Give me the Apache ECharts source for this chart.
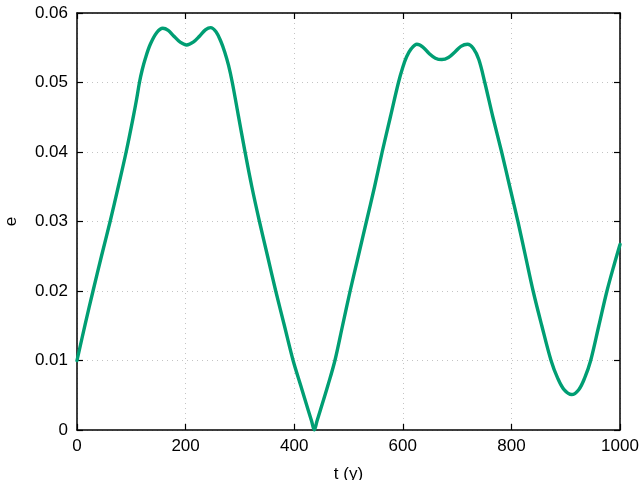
<!DOCTYPE html>
<html>
<head>
<meta charset="utf-8">
<script src="https://cdn.jsdelivr.net/npm/echarts@6/dist/echarts.min.js"></script>
<style>html,body{margin:0;padding:0;background:#fff}#c{width:640px;height:480px}</style>
</head>
<body>
<div id="c"></div>
<script>
const tValues = [0,15,29.5,45,61,76,90.5,104,110,115,120,126,135,147,158,168,178,190,202,214,226,237,246,256,265,272,279,286,297,309,322,336,351,366,382,398,412,426,432,437,442,448,462,475,489,503,518,533,548,562,577,592,600,607,615,626,637,648,660,672,684,696,707,719,730,740,751,766,782,797,812,826,840,856,873,885,897,911,924,935,946,961,976,990,1000];
const eValues = [0.0100,0.0152,0.0200,0.0250,0.0300,0.0350,0.0400,0.0452,0.0477,0.0500,0.0518,0.0535,0.0555,0.0572,0.0578,0.0575,0.0567,0.0558,0.0554,0.0558,0.0567,0.0576,0.0579,0.0573,0.0559,0.0544,0.0525,0.0500,0.0453,0.0402,0.0350,0.0300,0.0250,0.0200,0.0150,0.0100,0.0064,0.0028,0.0013,0.0000,0.0013,0.0028,0.0064,0.0100,0.0150,0.0200,0.0250,0.0300,0.0350,0.0400,0.0450,0.0500,0.0522,0.0537,0.0548,0.0555,0.0551,0.0542,0.0535,0.0533,0.0536,0.0544,0.0552,0.0555,0.0549,0.0533,0.0500,0.0450,0.0400,0.0350,0.0300,0.0250,0.0200,0.0150,0.0100,0.0075,0.0058,0.0051,0.0058,0.0075,0.0100,0.0150,0.0200,0.0240,0.0267];
const xTicks = [0,200,400,600,800,1000];
const yTicks = [0,0.01,0.02,0.03,0.04,0.05,0.06];

const data = tValues.map((t,i)=>[t,eValues[i]]);
const font = 'Liberation Sans, Arial, sans-serif';
const gridLine = {show:true,lineStyle:{color:'#c4c4c4',type:[1,4],width:1}};
const tick = {show:true,inside:true,length:6,lineStyle:{color:'#000',width:1.2}};
const chart = echarts.init(document.getElementById('c'),null,{renderer:'canvas'});
chart.setOption({
  animation:false,
  grid:{left:77,right:20,top:13,bottom:50,containLabel:false,outerBoundsMode:'none',show:false},
  xAxis:[{
    type:'value',min:0,max:1000,interval:200,
    name:'t (y)',nameLocation:'middle',nameGap:36,
    nameTextStyle:{color:'#000',fontSize:17,fontFamily:font},
    axisLine:{show:true,onZero:false,lineStyle:{color:'#000',width:1.5}},
    axisTick:tick,
    axisLabel:{color:'#000',fontSize:17,fontFamily:font,margin:8,formatter:v=>xTicks.includes(v)?String(v):''},
    splitLine:gridLine
  },{
    type:'value',min:0,max:1000,interval:200,position:'top',
    axisLine:{show:true,onZero:false,lineStyle:{color:'#000',width:1.5}},
    axisLabel:{show:false},splitLine:{show:false},
    axisTick:tick
  }],
  yAxis:[{
    type:'value',min:0,max:0.06,interval:0.01,
    name:'e',nameLocation:'middle',nameGap:57,nameRotate:90,
    nameTextStyle:{color:'#000',fontSize:17,fontFamily:font},
    axisLine:{show:true,onZero:false,lineStyle:{color:'#000',width:1.5}},
    axisTick:tick,
    axisLabel:{color:'#000',fontSize:17,fontFamily:font,margin:9,
      formatter:v=>{const k=yTicks.findIndex(y=>Math.abs(y-v)<1e-9);return k<0?'':(k===0?'0':yTicks[k].toFixed(2));}},
    splitLine:gridLine
  },{
    type:'value',min:0,max:0.06,interval:0.01,position:'right',
    axisLine:{show:true,onZero:false,lineStyle:{color:'#000',width:1.5}},
    axisLabel:{show:false},splitLine:{show:false},
    axisTick:tick
  }],
  series:[{
    type:'line',data:data,showSymbol:false,smooth:0.35,
    lineStyle:{color:'#009e73',width:3.4,join:'round',cap:'round'},
    clip:true
  }]
});
</script>
</body>
</html>
